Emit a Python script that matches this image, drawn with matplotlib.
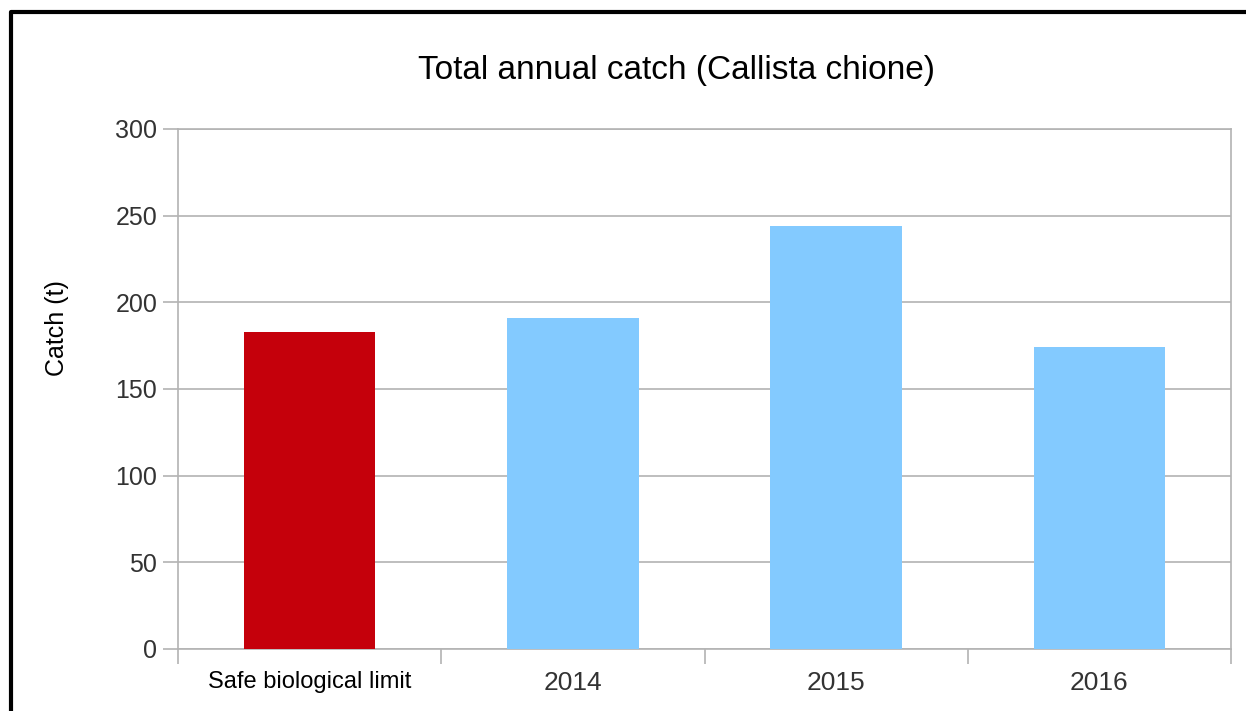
import matplotlib
matplotlib.use("Agg")
import matplotlib.pyplot as plt
from matplotlib.lines import Line2D

plt.rcParams['font.family'] = ['Liberation Sans', 'DejaVu Sans']

# data
categories = ['Safe biological limit', '2014', '2015', '2016']
catch_t = [183, 191, 244, 174]
bar_colors = ['#C5000B', '#83CAFF', '#83CAFF', '#83CAFF']
y_ticks = [0, 50, 100, 150, 200, 250, 300]

W, H = 1246, 711
fig = plt.figure(figsize=(W / 100, H / 100), dpi=100)
ax = fig.add_axes([178 / W, 1 - 649 / H, (1231 - 178) / W, (649 - 129) / H])

x = list(range(len(categories)))
ax.bar(x, catch_t, width=0.5, color=bar_colors, zorder=3)

ax.set_xlim(-0.5, len(categories) - 0.5)
ax.set_ylim(0, 300)

# grid and frame in LibreOffice grey
grey = '#b3b3b3'
ax.set_yticks(y_ticks)
ax.yaxis.grid(True, color=grey, linewidth=1.2, zorder=0)
for s in ax.spines.values():
    s.set_color(grey)
    s.set_linewidth(1.2)
ax.tick_params(axis='y', colors=grey, length=11, width=1.2, labelsize=18,
               labelcolor='#333333', pad=4)

# category boundaries as major ticks, labels on minor ticks at centres
ax.set_xticks([i - 0.5 for i in range(len(categories) + 1)])
ax.set_xticklabels([])
ax.tick_params(axis='x', which='major', colors=grey, length=11, width=1.2)
ax.set_xticks(x, minor=True)
ax.set_xticklabels(categories, minor=True)
ax.tick_params(axis='x', which='minor', length=0, labelsize=19,
               labelcolor='#333333', pad=16)
minor_labels = ax.get_xticklabels(minor=True)
minor_labels[0].set_fontsize(17)
minor_labels[0].set_color('black')

fig.text(676 / W, 1 - 70 / H, 'Total annual catch (Callista chione)',
         ha='center', va='center', fontsize=24, color='black')
fig.text(57 / W, 1 - 328 / H, 'Catch (t)', rotation=90,
         ha='center', va='center', fontsize=18, color='black')

# black frame at left and top of the picture
fig.add_artist(Line2D([11 / W, 11 / W, 1.0], [0, 1 - 12 / H, 1 - 12 / H],
                      transform=fig.transFigure, color='black', linewidth=3,
                      solid_joinstyle='round'))

fig.savefig('out.png', dpi=100, facecolor='white')
